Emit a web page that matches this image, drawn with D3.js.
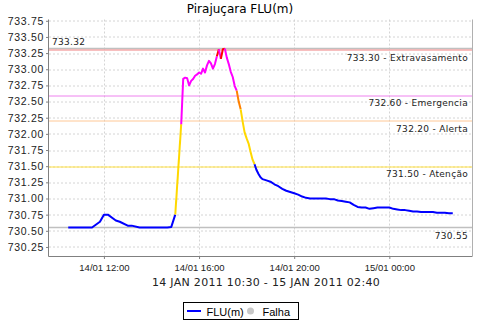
<!DOCTYPE html>
<html>
<head>
<meta charset="utf-8">
<script src="https://cdn.jsdelivr.net/npm/d3@7"></script>
<style>
	body { margin: 0; background: #fff; }
	svg { display: block; font-family: "DejaVu Sans", sans-serif; }
	.grid line { stroke: #d4d4d4; stroke-dasharray: 2,2; }
	.axis path, .axis line { stroke: #808080; }
	.axis text { fill: #222; }
</style>
</head>
<body>
<div id="chart"></div>
<script>
const title = 'Pirajuçara FLU(m)';
const subtitle = '14 JAN 2011 10:30 - 15 JAN 2011 02:40';

const times = [
	'14/01 10:30', '14/01 11:30', '14/01 11:50', '14/01 12:00', '14/01 12:10', '14/01 12:30',
	'14/01 12:40', '14/01 13:00', '14/01 13:10', '14/01 13:30', '14/01 14:40', '14/01 14:50',
	'14/01 15:00', '14/01 15:15', '14/01 15:20', '14/01 15:25', '14/01 15:30', '14/01 15:35',
	'14/01 15:40', '14/01 15:45', '14/01 15:50', '14/01 15:55', '14/01 16:00', '14/01 16:05',
	'14/01 16:10', '14/01 16:15', '14/01 16:20', '14/01 16:25', '14/01 16:30', '14/01 16:35',
	'14/01 16:40', '14/01 16:45', '14/01 16:50', '14/01 16:55', '14/01 17:00', '14/01 17:05',
	'14/01 17:10', '14/01 17:15', '14/01 17:20', '14/01 17:25', '14/01 17:30', '14/01 17:35',
	'14/01 17:40', '14/01 17:45', '14/01 17:50', '14/01 17:55', '14/01 18:00', '14/01 18:05',
	'14/01 18:10', '14/01 18:15', '14/01 18:20', '14/01 18:25', '14/01 18:30', '14/01 18:35',
	'14/01 18:40', '14/01 18:50', '14/01 19:00', '14/01 19:10', '14/01 19:20', '14/01 19:30',
	'14/01 19:40', '14/01 19:50', '14/01 20:00', '14/01 20:10', '14/01 20:20', '14/01 20:30',
	'14/01 20:40', '14/01 20:50', '14/01 21:00', '14/01 21:10', '14/01 21:20', '14/01 21:30',
	'14/01 21:40', '14/01 21:50', '14/01 22:00', '14/01 22:10', '14/01 22:20', '14/01 22:30',
	'14/01 22:40', '14/01 22:50', '14/01 23:00', '14/01 23:10', '14/01 23:20', '14/01 23:30',
	'14/01 23:40', '14/01 23:50', '15/01 00:00', '15/01 00:10', '15/01 00:20', '15/01 00:30',
	'15/01 00:40', '15/01 00:50', '15/01 01:00', '15/01 01:10', '15/01 01:20', '15/01 01:30',
	'15/01 01:40', '15/01 01:50', '15/01 02:00', '15/01 02:10', '15/01 02:20', '15/01 02:30',
	'15/01 02:40',
];
const values = [
	730.55, 730.55, 730.64, 730.75, 730.75, 730.66,
	730.64, 730.58, 730.58, 730.55, 730.55, 730.56,
	730.75, 732.15, 732.85, 732.87, 732.86, 732.75,
	732.82, 732.85, 732.90, 732.92, 732.95, 732.93,
	733.01, 732.95, 733.06, 733.13, 733.09, 733.01,
	733.08, 733.20, 733.31, 733.16, 733.31, 733.32,
	733.18, 733.08, 732.96, 732.88, 732.74, 732.67,
	732.50, 732.38, 732.19, 732.02, 731.93, 731.85,
	731.72, 731.60, 731.53, 731.44, 731.38, 731.33,
	731.30, 731.28, 731.26, 731.22, 731.19, 731.15,
	731.12, 731.10, 731.08, 731.06, 731.03, 731.01,
	731.00, 731.00, 731.00, 731.00, 731.00, 730.99,
	730.99, 730.97, 730.96, 730.95, 730.94, 730.90,
	730.87, 730.86, 730.86, 730.84, 730.85, 730.86,
	730.86, 730.86, 730.86, 730.84, 730.83, 730.82,
	730.82, 730.81, 730.80, 730.80, 730.79, 730.79,
	730.79, 730.79, 730.78, 730.78, 730.78, 730.77,
	730.77,
];

// alert levels (lower bound) and their colours
const levelValues = [733.30, 732.60, 732.20, 731.50];
const levelNames = ['Extravasamento', 'Emergencia', 'Alerta', 'Atenção'];
const levelColors = ['#f08080', '#ee82ee', '#ffc896', '#ffe040'];
const segColors = ['#ff0000', '#ff00ff', '#ff8000', '#ffd800'];

const yTicks = [730.25, 730.50, 730.75, 731.00, 731.25, 731.50, 731.75, 732.00,
	732.25, 732.50, 732.75, 733.00, 733.25, 733.50, 733.75];
const xTicks = ['14/01 12:00', '14/01 16:00', '14/01 20:00', '15/01 00:00'];

const parse = d3.timeParse('%d/%m/%Y %H:%M');
const toDate = s => parse(s.slice(0, 5) + '/2011' + s.slice(5));
const data = times.map((t, i) => ({ t: toDate(t), v: values[i] }));

const W = 480;
const H = 320;
const margin = { top: 19.5, right: 8, bottom: 64, left: 49 };
const width = W - margin.left - margin.right;
const height = H - margin.top - margin.bottom;

const svg = d3.select('#chart').append('svg')
	.attr('width', W)
	.attr('height', H);

svg.append('text')
	.attr('x', 240)
	.attr('y', 13)
	.attr('text-anchor', 'middle')
	.style('font-size', '12px')
	.text(title);

const chart = svg.append('g')
	.attr('transform', `translate(${margin.left}, ${margin.top})`);

// 5% padding on the time axis
const ext = d3.extent(data, d => d.t);
const pad = (ext[1] - ext[0]) * 0.05;
const x = d3.scaleTime()
	.domain([new Date(+ext[0] - pad), new Date(+ext[1] + pad)])
	.range([0, width]);
const y = d3.scaleLinear()
	.domain([730.11, 733.77])
	.range([height, 0]);

// grid
const grid = chart.append('g').attr('class', 'grid');
grid.selectAll('.gy')
	.data(yTicks)
	.enter().append('line')
		.attr('x1', 0)
		.attr('x2', width)
		.attr('y1', d => Math.round(y(d)) + 0.5)
		.attr('y2', d => Math.round(y(d)) + 0.5);
grid.selectAll('.gx')
	.data(xTicks)
	.enter().append('line')
		.attr('x1', d => Math.round(x(toDate(d))) + 0.5)
		.attr('x2', d => Math.round(x(toDate(d))) + 0.5)
		.attr('y1', 0)
		.attr('y2', height);

// plot outline (right side)
chart.append('line')
	.attr('x1', width + 0.5)
	.attr('x2', width + 0.5)
	.attr('y1', 0)
	.attr('y2', height)
	.style('stroke', '#b0b0b0');

// min / max markers
const vMax = d3.max(values);
const vMin = d3.min(values);
const markers = chart.append('g');
[vMax, vMin].forEach((v) => {
	markers.append('line')
		.attr('x1', 0)
		.attr('x2', width)
		.attr('y1', y(v))
		.attr('y2', y(v))
		.style('stroke', '#c0c0c0')
		.style('stroke-width', 1.5);
});
markers.append('text')
	.attr('x', 3)
	.attr('y', y(vMax) - 4)
	.style('font-size', '9px')
	.style('letter-spacing', '0.3px')
	.style('fill', '#222')
	.text(vMax.toFixed(2));
markers.append('text')
	.attr('x', width - 4)
	.attr('y', y(vMin) + 11)
	.attr('text-anchor', 'end')
	.style('font-size', '9px')
	.style('letter-spacing', '0.3px')
	.style('fill', '#222')
	.text(vMin.toFixed(2));

// threshold lines
const levels = chart.selectAll('.level')
	.data(levelValues)
	.enter().append('g')
		.attr('class', 'level');
levels.append('line')
	.attr('x1', 0)
	.attr('x2', width)
	.attr('y1', d => Math.round(y(d)) + 0.5)
	.attr('y2', d => Math.round(y(d)) + 0.5)
	.style('stroke', (d, i) => levelColors[i]);
levels.append('text')
	.attr('x', width - 4)
	.attr('y', d => y(d) + 11)
	.attr('text-anchor', 'end')
	.style('font-size', '9px')
	.style('letter-spacing', '0.3px')
	.style('fill', '#222')
	.text((d, i) => `${d.toFixed(2)} - ${levelNames[i]}`);

// series, each segment coloured by the level of its end point
const colorOf = (v) => {
	for (let i = 0; i < levelValues.length; i += 1) {
		if (v > levelValues[i]) return segColors[i];
	}
	return '#0000ff';
};
const runs = [];
for (let i = 1; i < data.length; i += 1) {
	const c = colorOf(data[i].v);
	const last = runs[runs.length - 1];
	if (last && last.color === c) last.pts.push(data[i]);
	else runs.push({ color: c, pts: [data[i - 1], data[i]] });
}
const line = d3.line()
	.x(d => x(d.t))
	.y(d => y(d.v));
chart.selectAll('.run')
	.data(runs)
	.enter().append('path')
		.attr('class', 'run')
		.attr('d', d => line(d.pts))
		.style('fill', 'none')
		.style('stroke', d => d.color)
		.style('stroke-width', 2)
		.style('stroke-linejoin', 'round');

// axes
const yAxis = d3.axisLeft(y)
	.tickValues(yTicks)
	.tickSize(3)
	.tickFormat(d3.format('.2f'));
const xAxis = d3.axisBottom(x)
	.tickValues(xTicks.map(toDate))
	.tickSize(3)
	.tickFormat(d3.timeFormat('%d/%m %H:%M'));
chart.append('g')
	.attr('class', 'y axis')
	.call(yAxis)
	.call(g => g.selectAll('text')
		.style('font-size', '10.5px')
		.style('letter-spacing', '0.7px')
		.attr('x', -5));
chart.append('g')
	.attr('class', 'x axis')
	.attr('transform', `translate(0, ${height})`)
	.call(xAxis)
	.call(g => g.selectAll('text')
		.style('font-size', '9.5px')
		.attr('dy', '0.9em'));
chart.selectAll('.axis .domain').attr('d', null);
chart.append('line')
	.attr('x1', -0.5).attr('x2', -0.5)
	.attr('y1', 0).attr('y2', height + 0.5)
	.style('stroke', '#808080');
chart.append('line')
	.attr('x1', -0.5).attr('x2', width + 0.5)
	.attr('y1', height + 0.5).attr('y2', height + 0.5)
	.style('stroke', '#808080');

// date range label
svg.append('text')
	.attr('x', 266)
	.attr('y', 286)
	.attr('text-anchor', 'middle')
	.style('font-size', '11px')
	.style('letter-spacing', '0.3px')
	.style('fill', '#222')
	.text(subtitle);

// legend
const legend = svg.append('g')
	.attr('transform', 'translate(183.5, 302.5)')
	.style('font-family', '"Liberation Sans", sans-serif')
	.style('font-size', '11px');
legend.append('rect')
	.attr('width', 115)
	.attr('height', 17)
	.style('fill', '#fff')
	.style('stroke', '#000');
legend.append('line')
	.attr('x1', 3.5).attr('x2', 17.5)
	.attr('y1', 8.5).attr('y2', 8.5)
	.style('stroke', '#0000ff')
	.style('stroke-width', 2);
legend.append('text')
	.attr('x', 23)
	.attr('y', 13)
	.text('FLU(m)');
legend.append('circle')
	.attr('cx', 67)
	.attr('cy', 8.5)
	.attr('r', 3.5)
	.style('fill', '#c8c8c8');
legend.append('text')
	.attr('x', 79)
	.attr('y', 13)
	.text('Falha');
</script>
</body>
</html>
